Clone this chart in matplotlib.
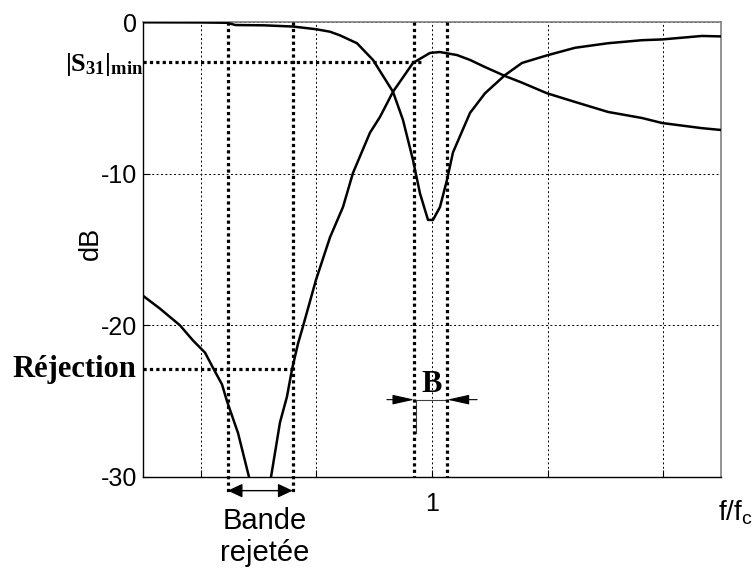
import matplotlib
matplotlib.use("Agg")
import matplotlib.pyplot as plt

plt.rcParams['font.family'] = ['Liberation Sans', 'DejaVu Sans']
plt.rcParams['mathtext.fontset'] = 'custom'
plt.rcParams['mathtext.rm'] = 'Liberation Serif'
plt.rcParams['mathtext.bf'] = 'Liberation Serif:bold'

# ---- data ----
s31_f = [0.5, 0.6, 0.645, 0.66, 0.71, 0.76, 0.8, 0.8235, 0.8408, 0.8702, 0.8979,
         0.9325, 0.9498, 0.9671, 0.9792, 0.9931, 1.0017, 1.0138, 1.026, 1.0363,
         1.0657, 1.0917, 1.1263, 1.1557, 1.199, 1.2474, 1.3045, 1.3633, 1.398,
         1.4671, 1.5]
s31_db = [-0.02, -0.03, -0.05, -0.2, -0.22, -0.3, -0.48, -0.64, -0.88, -1.4, -2.5,
          -4.6, -6.46, -9.1, -11.3, -13.05, -13.05, -12.2, -10.4, -8.6,
          -6.0, -4.7, -3.5, -2.7, -2.2, -1.7, -1.4, -1.2, -1.15,
          -0.92, -0.95]

s21_f = [0.5, 0.5294, 0.564, 0.5865, 0.6073, 0.6211, 0.6367, 0.6453, 0.6644, 0.6834,
         0.7024, 0.7215, 0.737, 0.7491, 0.7578, 0.7682, 0.7751, 0.7993, 0.8235,
         0.846, 0.8633, 0.8927, 0.91, 0.9325, 0.9671, 0.9965, 1.0138, 1.0433,
         1.0657, 1.0917, 1.1263, 1.1557, 1.199, 1.2474, 1.3045, 1.3633, 1.398,
         1.4671, 1.5]
s21_db = [-18.05, -18.9, -20.0, -21.0, -21.8, -22.8, -23.9, -25.0, -27.1, -30.0,
          -36.0, -30.0, -26.4, -24.7, -22.9, -21.2, -20.3, -17.0, -14.2,
          -12.2, -9.95, -7.3, -6.26, -4.6, -2.7, -2.04, -1.98, -2.18,
          -2.5, -2.97, -3.56, -4.0, -4.7, -5.27, -5.93, -6.33, -6.66,
          -7.0, -7.12]

x_ticks = [0.6, 0.8, 1.0, 1.2, 1.4]
x_ticklabels = ['', '', '1', '', '']
y_ticks = [-30, -20, -10, 0]
y_ticklabels = ['-30', '-20', '-10', '0']

s31_min_db = -2.66
rejection_db = -22.9
band_lo, band_hi = 0.6465, 0.759
bw_lo, bw_hi = 0.9694, 1.0265

# ---- figure ----
fig = plt.figure(figsize=(7.55, 5.70), dpi=100)
ax = fig.add_axes([143/755, 1-477/570, (721-143)/755, (477-22)/570])
ax.set_xlim(0.5, 1.5)
ax.set_ylim(-30, 0)

ax.set_xticks(x_ticks)
ax.set_xticklabels(x_ticklabels, fontsize=18)
ax.set_yticks(y_ticks)
ax.set_yticklabels(y_ticklabels, fontsize=18)
ax.tick_params(direction='in', length=5, width=0.8)
ax.tick_params(axis='x', pad=11)
ax.tick_params(axis='y', pad=4.5)
ax.grid(True, color='black', linestyle=(0, (2, 2.5)), linewidth=0.7)
ax.set_axisbelow(True)

for side in ['left', 'bottom']:
    ax.spines[side].set_color('black')
    ax.spines[side].set_linewidth(1.0)
for side in ['top', 'right']:
    ax.spines[side].set_color('#808080')
    ax.spines[side].set_linewidth(1.2)

ax.plot(s31_f, s31_db, color='black', lw=1.8, zorder=4)
ax.plot(s21_f, s21_db, color='black', lw=1.8, zorder=4)

dot = (0, (1, 1))
lwd = 2.3
# horizontal markers
ax.plot([0.5, 0.9823], [s31_min_db, s31_min_db], color='black', lw=lwd, linestyle=dot, zorder=3)
ax.plot([0.5, band_hi], [rejection_db, rejection_db], color='black', lw=lwd, linestyle=dot, zorder=3)
# vertical markers
for xv in (band_lo, band_hi):
    ax.plot([xv, xv], [0, -31.0], color='black', lw=lwd, linestyle=dot, zorder=3, clip_on=False)
for xv in (bw_lo, bw_hi):
    ax.plot([xv, xv], [0, -30], color='black', lw=lwd, linestyle=dot, zorder=3)

# Bande rejetee arrow
ax.annotate('', xy=(band_hi, -30.9), xytext=(band_lo, -30.9),
            arrowprops=dict(arrowstyle='<|-|>,head_length=0.6,head_width=0.28',
                            mutation_scale=15, color='black', lw=1.0,
                            shrinkA=0, shrinkB=0),
            annotation_clip=False)

# B arrows
yb = -24.9
ax.plot([bw_lo, bw_hi], [yb, yb], color='#404040', lw=0.8)
ax.plot([bw_lo + 0.003, bw_lo + 0.003], [yb, -27.1], color='#404040', lw=0.8)
ax.annotate('', xy=(bw_lo, yb), xytext=(0.922, yb),
            arrowprops=dict(arrowstyle='-|>,head_length=0.9,head_width=0.2',
                            mutation_scale=15, color='black', lw=0.8,
                            shrinkA=0, shrinkB=0))
ax.annotate('', xy=(bw_hi, yb), xytext=(1.078, yb),
            arrowprops=dict(arrowstyle='-|>,head_length=0.9,head_width=0.2',
                            mutation_scale=15, color='black', lw=0.8,
                            shrinkA=0, shrinkB=0))
ax.text(1.0, -23.9, 'B', family='Liberation Serif', fontweight='bold',
        fontsize=22, ha='center', va='center')

# labels
fig.text(91/755, 1-243/570, 'dB', fontsize=19.5, rotation=90, ha='center', va='center')
fig.text(143/755, 1-65/570, r'$\mathbf{|S_{31}|_{min}}$', fontsize=19,
         ha='right', va='center')
fig.text(136/755, 1-369/570, 'Réjection', family='Liberation Serif',
         fontweight='bold', fontsize=22, ha='right', va='center')
fig.text(265/755, 1-521/570, 'Bande', fontsize=21, ha='center', va='center')
fig.text(265/755, 1-553/570, 'rejetée', fontsize=21, ha='center', va='center')
fig.text(718/755, 1-520/570, r'f/f$_\mathregular{c}$', fontsize=20,
         ha='left', va='baseline')

fig.savefig('out.png', dpi=100)
